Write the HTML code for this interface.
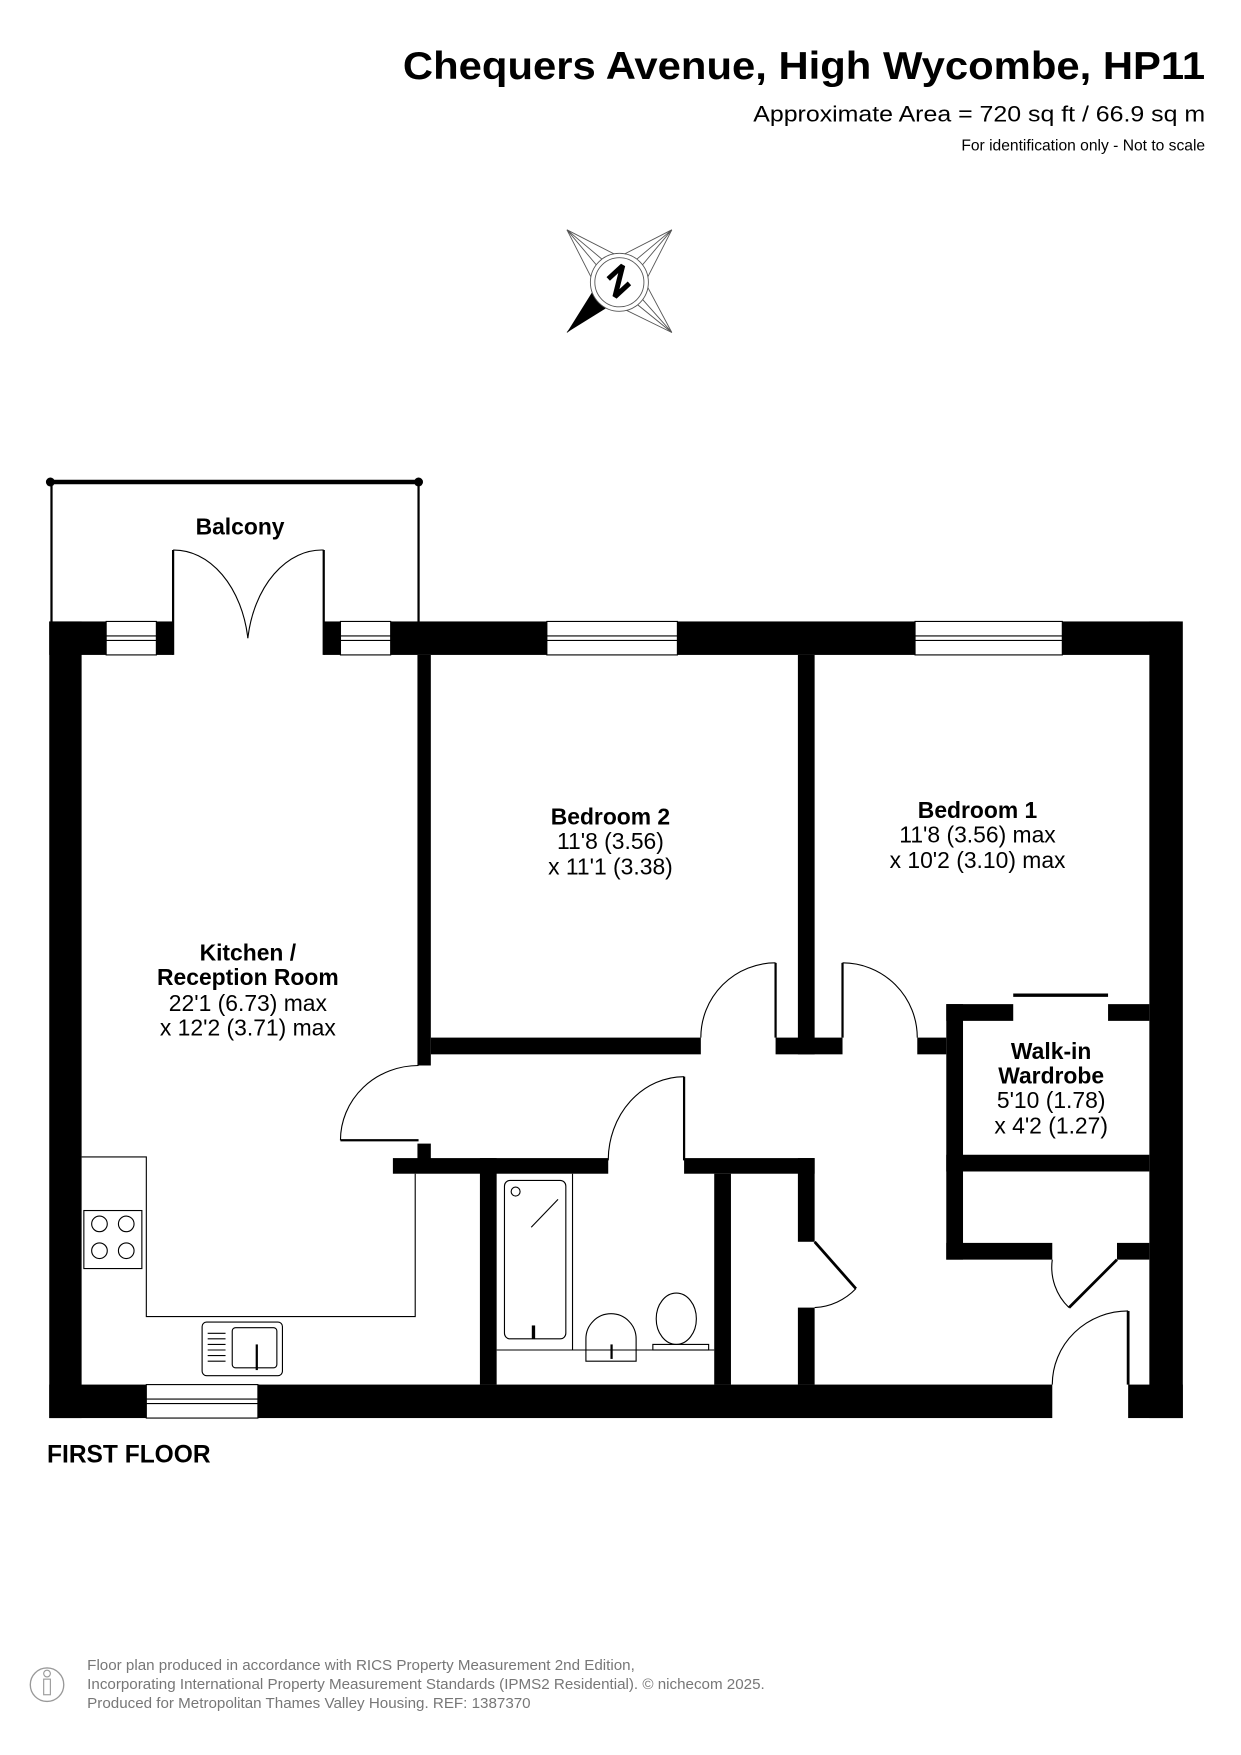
<!DOCTYPE html>
<html><head><meta charset="utf-8"><style>html,body{margin:0;padding:0;background:#fff}svg{display:block}text{font-family:"Liberation Sans",Arial,sans-serif}</style></head><body>
<svg width="1241" height="1755" viewBox="0 0 1112 1573" xmlns="http://www.w3.org/2000/svg">
<rect width="1112" height="1573" fill="#fff"/>
<text x="361" y="71" textLength="719" lengthAdjust="spacingAndGlyphs" font-size="35" font-weight="bold">Chequers Avenue, High Wycombe, HP11</text>
<text x="675" y="109" textLength="405" lengthAdjust="spacingAndGlyphs" font-size="20">Approximate Area = 720 sq ft / 66.9 sq m</text>
<text x="1080" y="135" text-anchor="end" font-size="14">For identification only - Not to scale</text>
<!-- compass -->
<g stroke="#555" stroke-width="0.8" fill="none">
<polygon points="508,206 545,237 555,230 565,237 602,206 571,243 578,253 571,263 602,298 565,268 555,275 545,268 508,298 539,263 532,253 539,243" fill="#fff"/>
<line x1="508" y1="206" x2="555" y2="230"/><line x1="508" y1="206" x2="532" y2="253"/>
<line x1="602" y1="206" x2="555" y2="230"/><line x1="602" y1="206" x2="578" y2="253"/>
<line x1="602" y1="298" x2="578" y2="253"/><line x1="602" y1="298" x2="555" y2="275"/>
</g>
<polygon points="508,298 533,258 545,275" fill="#000"/>
<circle cx="555" cy="253" r="26" fill="#fff" stroke="#555" stroke-width="0.8"/>
<circle cx="555" cy="253" r="22" fill="#fff" stroke="#555" stroke-width="0.8"/>
<polyline points="545,250 558,238 551,266 564,254" fill="none" stroke="#000" stroke-width="4.5" stroke-linejoin="bevel"/>
<!-- balcony -->
<line x1="44" y1="432" x2="375" y2="432" stroke="#000" stroke-width="4"/>
<circle cx="45" cy="432" r="4"/><circle cx="375" cy="432" r="4"/>
<line x1="46" y1="432" x2="46" y2="557" stroke="#000" stroke-width="2"/>
<line x1="375" y1="432" x2="375" y2="557" stroke="#000" stroke-width="2"/>
<text x="215" y="479" text-anchor="middle" font-size="20.5" font-weight="bold">Balcony</text>
<g fill="#000">
<rect x="44" y="557" width="51" height="30"/><rect x="140" y="557" width="15" height="30"/>
<rect x="290" y="557" width="15" height="30"/><rect x="350" y="557" width="140" height="30"/>
<rect x="607" y="557" width="213" height="30"/><rect x="952" y="557" width="105" height="30"/>
<rect x="44" y="557" width="29" height="714"/>
<rect x="1030" y="557" width="30" height="714"/>
<rect x="44" y="1241" width="87" height="30"/><rect x="231" y="1241" width="712" height="30"/>
<rect x="1011" y="1241" width="49" height="30"/>
<rect x="374" y="587" width="12" height="368"/>
<rect x="374" y="1025" width="12" height="15"/>
<rect x="352" y="1038" width="193" height="14"/>
<rect x="613" y="1038" width="117" height="14"/>
<rect x="386" y="930" width="242" height="15"/>
<rect x="715" y="587" width="15" height="358"/>
<rect x="695" y="930" width="60" height="15"/>
<rect x="822" y="930" width="26" height="15"/>
<rect x="848" y="900" width="15" height="229"/>
<rect x="848" y="900" width="60" height="15"/>
<rect x="993" y="900" width="37" height="15"/>
<rect x="848" y="1035" width="182" height="15"/>
<rect x="848" y="1114" width="95" height="15"/>
<rect x="1001" y="1114" width="29" height="15"/>
<rect x="430" y="1038" width="15" height="203"/>
<rect x="640" y="1052" width="15" height="189"/>
<rect x="715" y="1038" width="15" height="75"/>
<rect x="715" y="1172" width="15" height="69"/>
</g>
<g stroke="#000" stroke-width="1" fill="#fff">
<rect x="95" y="557" width="45" height="30"/><line x1="95" y1="570" x2="140" y2="570"/><line x1="95" y1="574" x2="140" y2="574"/>
<rect x="305" y="557" width="45" height="30"/><line x1="305" y1="570" x2="350" y2="570"/><line x1="305" y1="574" x2="350" y2="574"/>
<rect x="490" y="557" width="117" height="30"/><line x1="490" y1="570" x2="607" y2="570"/><line x1="490" y1="574" x2="607" y2="574"/>
<rect x="820" y="557" width="132" height="30"/><line x1="820" y1="570" x2="952" y2="570"/><line x1="820" y1="574" x2="952" y2="574"/>
<rect x="131" y="1241" width="100" height="30"/><line x1="131" y1="1254" x2="231" y2="1254"/><line x1="131" y1="1258" x2="231" y2="1258"/>
</g>
<g stroke="#000" stroke-width="1" fill="none">
<line x1="155" y1="493" x2="155" y2="587" stroke-width="2"/><line x1="290" y1="493" x2="290" y2="587" stroke-width="2"/>
<path d="M155,493 A67,94 0 0 1 222,572"/><path d="M290,493 A67,94 0 0 0 222,572"/>
<line x1="305" y1="1022" x2="375" y2="1022" stroke-width="2"/><path d="M305,1022 A70,67 0 0 1 375,955"/>
<line x1="613" y1="965" x2="613" y2="1040" stroke-width="2"/><path d="M545,1040 A68,75 0 0 1 613,965"/>
<line x1="695" y1="863" x2="695" y2="930" stroke-width="2"/><path d="M628,930 A67,67 0 0 1 695,863"/>
<line x1="755" y1="863" x2="755" y2="930" stroke-width="2"/><path d="M755,863 A67,67 0 0 1 822,930"/>
<line x1="908" y1="892" x2="993" y2="892" stroke-width="3"/>
<line x1="730" y1="1113" x2="767" y2="1155" stroke-width="2.5"/><path d="M767,1155 A55,55 0 0 1 730,1172"/>
<line x1="1001" y1="1129" x2="958" y2="1172" stroke-width="2.5"/><path d="M943,1129 A50,50 0 0 0 958,1172"/>
<line x1="1011" y1="1175" x2="1011" y2="1241" stroke-width="2.5"/><path d="M943,1241 A68,66 0 0 1 1011,1175"/>
<polyline points="73,1037 131,1037 131,1180 372,1180 372,1052"/>
<rect x="75" y="1085" width="52" height="52" fill="#fff"/>
<circle cx="89" cy="1097" r="7"/><circle cx="113" cy="1097" r="7"/><circle cx="89" cy="1121" r="7"/><circle cx="113" cy="1121" r="7"/>
<rect x="181" y="1185" width="72" height="48" rx="4"/><rect x="208" y="1190" width="40" height="36" rx="3"/>
<line x1="186" y1="1195" x2="202" y2="1195"/><line x1="186" y1="1200" x2="202" y2="1200"/><line x1="186" y1="1205" x2="202" y2="1205"/><line x1="186" y1="1210" x2="202" y2="1210"/><line x1="186" y1="1215" x2="202" y2="1215"/><line x1="186" y1="1220" x2="202" y2="1220"/>
<line x1="230" y1="1205" x2="230" y2="1228" stroke-width="2"/>
<line x1="445" y1="1210" x2="640" y2="1210"/>
<rect x="452" y="1058" width="55" height="142" rx="5"/>
<line x1="513" y1="1052" x2="513" y2="1210"/>
<line x1="476" y1="1100" x2="500" y2="1075"/>
<circle cx="462" cy="1068" r="4"/>
<line x1="478" y1="1188" x2="478" y2="1200" stroke-width="3"/>
<path d="M525,1200 A22,22 0 0 1 570,1200 L570,1220 L525,1220 Z"/>
<line x1="548" y1="1205" x2="548" y2="1218" stroke-width="2"/>
<ellipse cx="606" cy="1182" rx="18" ry="23"/>
<rect x="585" y="1205" width="50" height="5"/>
</g>
<g font-size="20.5" text-anchor="middle">
<text x="547" y="739" font-weight="bold">Bedroom 2</text><text x="547" y="761">11'8 (3.56)</text><text x="547" y="784">x 11'1 (3.38)</text>
<text x="876" y="733" font-weight="bold">Bedroom 1</text><text x="876" y="755">11'8 (3.56) max</text><text x="876" y="778">x 10'2 (3.10) max</text>
<text x="222" y="861" font-weight="bold">Kitchen /</text><text x="222" y="883" font-weight="bold">Reception Room</text><text x="222" y="906">22'1 (6.73) max</text><text x="222" y="928">x 12'2 (3.71) max</text>
<text x="942" y="949" font-weight="bold">Walk-in</text><text x="942" y="971" font-weight="bold">Wardrobe</text><text x="942" y="993">5'10 (1.78)</text><text x="942" y="1016">x 4'2 (1.27)</text>
</g>
<text x="42" y="1311" font-size="22" font-weight="bold">FIRST FLOOR</text>
<circle cx="42" cy="1510" r="15" fill="none" stroke="#999" stroke-width="1.2"/>
<circle cx="42" cy="1500" r="3" fill="none" stroke="#999"/>
<rect x="39" y="1505" width="6" height="14" fill="none" stroke="#999"/>
<g font-size="13.6" fill="#777">
<text x="78" y="1497">Floor plan produced in accordance with RICS Property Measurement 2nd Edition,</text>
<text x="78" y="1514">Incorporating International Property Measurement Standards (IPMS2 Residential).   © nichecom 2025.</text>
<text x="78" y="1531">Produced for Metropolitan Thames Valley Housing.   REF:  1387370</text>
</g>
</svg>
</body></html>
